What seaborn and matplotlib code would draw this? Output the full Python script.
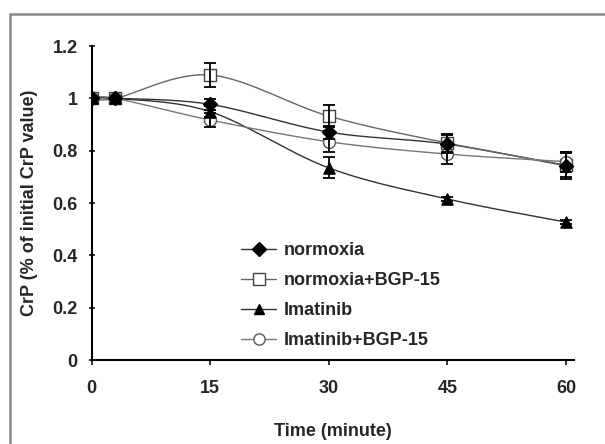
import numpy as np
import pandas as pd
import seaborn as sns
import matplotlib
matplotlib.use("Agg")
from matplotlib import pyplot as plt
from matplotlib.lines import Line2D
from matplotlib.patches import Rectangle

## CrP time course

time_min = [0, 3, 15, 30, 45, 60]

normoxia = [1.0, 1.0, 0.977, 0.871, 0.825, 0.742]
normoxia_err = [0, 0, 0.02, 0.025, 0.035, 0.052]

normoxia_bgp = [1.0, 1.0, 1.089, 0.932, 0.829, 0.745]
normoxia_bgp_err = [0, 0, 0.047, 0.043, 0.035, 0.045]

imatinib = [1.0, 1.0, 0.949, 0.734, 0.615, 0.527]
imatinib_err = [0, 0, 0.02, 0.04, 0.008, 0.008]

imatinib_bgp = [1.0, 1.0, 0.917, 0.834, 0.787, 0.758]
imatinib_bgp_err = [0, 0, 0.028, 0.04, 0.037, 0.038]

labels = ["normoxia", "normoxia+BGP-15", "Imatinib", "Imatinib+BGP-15"]

sns.set_theme(style="ticks")
plt.rcParams["font.family"] = ["Liberation Sans", "DejaVu Sans"]
plt.rcParams["font.weight"] = "bold"

FS = 13


def smooth(x, y, n=30):
    # excel-like smoothed line (catmull-rom through the points)
    p = np.column_stack([x, y]).astype(float)
    p = np.vstack([p[0], p, p[-1]])
    out = []
    for i in range(1, len(p) - 2):
        p0, p1, p2, p3 = p[i - 1], p[i], p[i + 1], p[i + 2]
        c1 = p1 + (p2 - p0) / 6
        c2 = p2 - (p3 - p1) / 6
        t = np.linspace(0, 1, n)[:, None]
        seg = (1 - t)**3 * p1 + 3 * (1 - t)**2 * t * c1 + 3 * (1 - t) * t**2 * c2 + t**3 * p2
        out.append(seg if i == 1 else seg[1:])
    seg = np.vstack(out)
    return seg[:, 0], seg[:, 1]


# values, errors, marker, face, edge, line colour, marker size, zorder
series = [
    (normoxia, normoxia_err, "D", "black", "black", "#333333", 7.5, 6),
    (normoxia_bgp, normoxia_bgp_err, "s", "white", "#444444", "#666666", 9.5, 4),
    (imatinib, imatinib_err, "^", "black", "black", "#333333", 8.5, 5),
    (imatinib_bgp, imatinib_bgp_err, "o", "white", "#555555", "#777777", 9, 4),
]

fig = plt.figure(figsize=(6.05, 4.44), dpi=100)
ax = fig.add_axes([91.7 / 605, 1 - 360 / 444, (574 - 91.7) / 605, (360 - 46) / 444])

for (vals, err, mk, fc, ec, lc, ms, z), lab in zip(series, labels):
    sx, sy = smooth(time_min, vals)
    df = pd.DataFrame({"t": sx, "v": sy})
    sns.lineplot(data=df, x="t", y="v", ax=ax, color=lc, linewidth=1.0,
                 sort=False, estimator=None)
    ax.errorbar(time_min, vals, yerr=err, fmt="none", ecolor="black",
                elinewidth=1.3, capsize=4, capthick=1.3, zorder=4.5)
    sns.scatterplot(x=time_min, y=vals, ax=ax, marker=mk, s=ms**2 * 0.9,
                    facecolor=fc, edgecolor=ec, linewidth=1.0, zorder=z)

ax.set_xlim(0, 61)
ax.set_ylim(0, 1.2)
ax.set_xticks([0, 15, 30, 45, 60])
ax.set_yticks([0, 0.2, 0.4, 0.6, 0.8, 1.0, 1.2])
ax.set_yticklabels(["0", "0.2", "0.4", "0.6", "0.8", "1", "1.2"])
sns.despine(ax=ax)
for s in ["left", "bottom"]:
    ax.spines[s].set_linewidth(1.5)
    ax.spines[s].set_color("black")
ax.tick_params(axis="y", direction="inout", length=5, width=1.3, labelsize=FS, pad=7.5)
ax.tick_params(axis="x", direction="out", length=3.6, width=1.3, labelsize=FS, pad=10.5)
for t in ax.get_xticklabels() + ax.get_yticklabels():
    t.set_fontweight("bold")

ax.set_xlabel("Time (minute)", fontsize=FS, fontweight="bold", labelpad=19)
ax.set_ylabel("CrP (% of initial CrP value)", fontsize=FS, fontweight="bold", labelpad=10.5)

handles = [
    Line2D([], [], color=lc, linewidth=1.0, marker=mk, markersize=ms * 0.9,
           markerfacecolor=fc, markeredgecolor=ec)
    for (_, _, mk, fc, ec, lc, ms, _) in series
]
ax.legend(handles, labels, loc="upper left", bbox_to_anchor=(241 / 605, 1 - 242 / 444),
          bbox_transform=fig.transFigure, frameon=False,
          handlelength=1.95, handletextpad=0.4, labelspacing=0.72,
          borderpad=0, borderaxespad=0, prop={"weight": "bold", "size": FS})

# chart area border
fig.patches.append(Rectangle((10 / 605, -0.1), 1.2, 1 - 14 / 444 + 0.1,
                             transform=fig.transFigure, fill=False,
                             edgecolor="#888888", linewidth=1.8))

fig.savefig("out.png", dpi=100)
